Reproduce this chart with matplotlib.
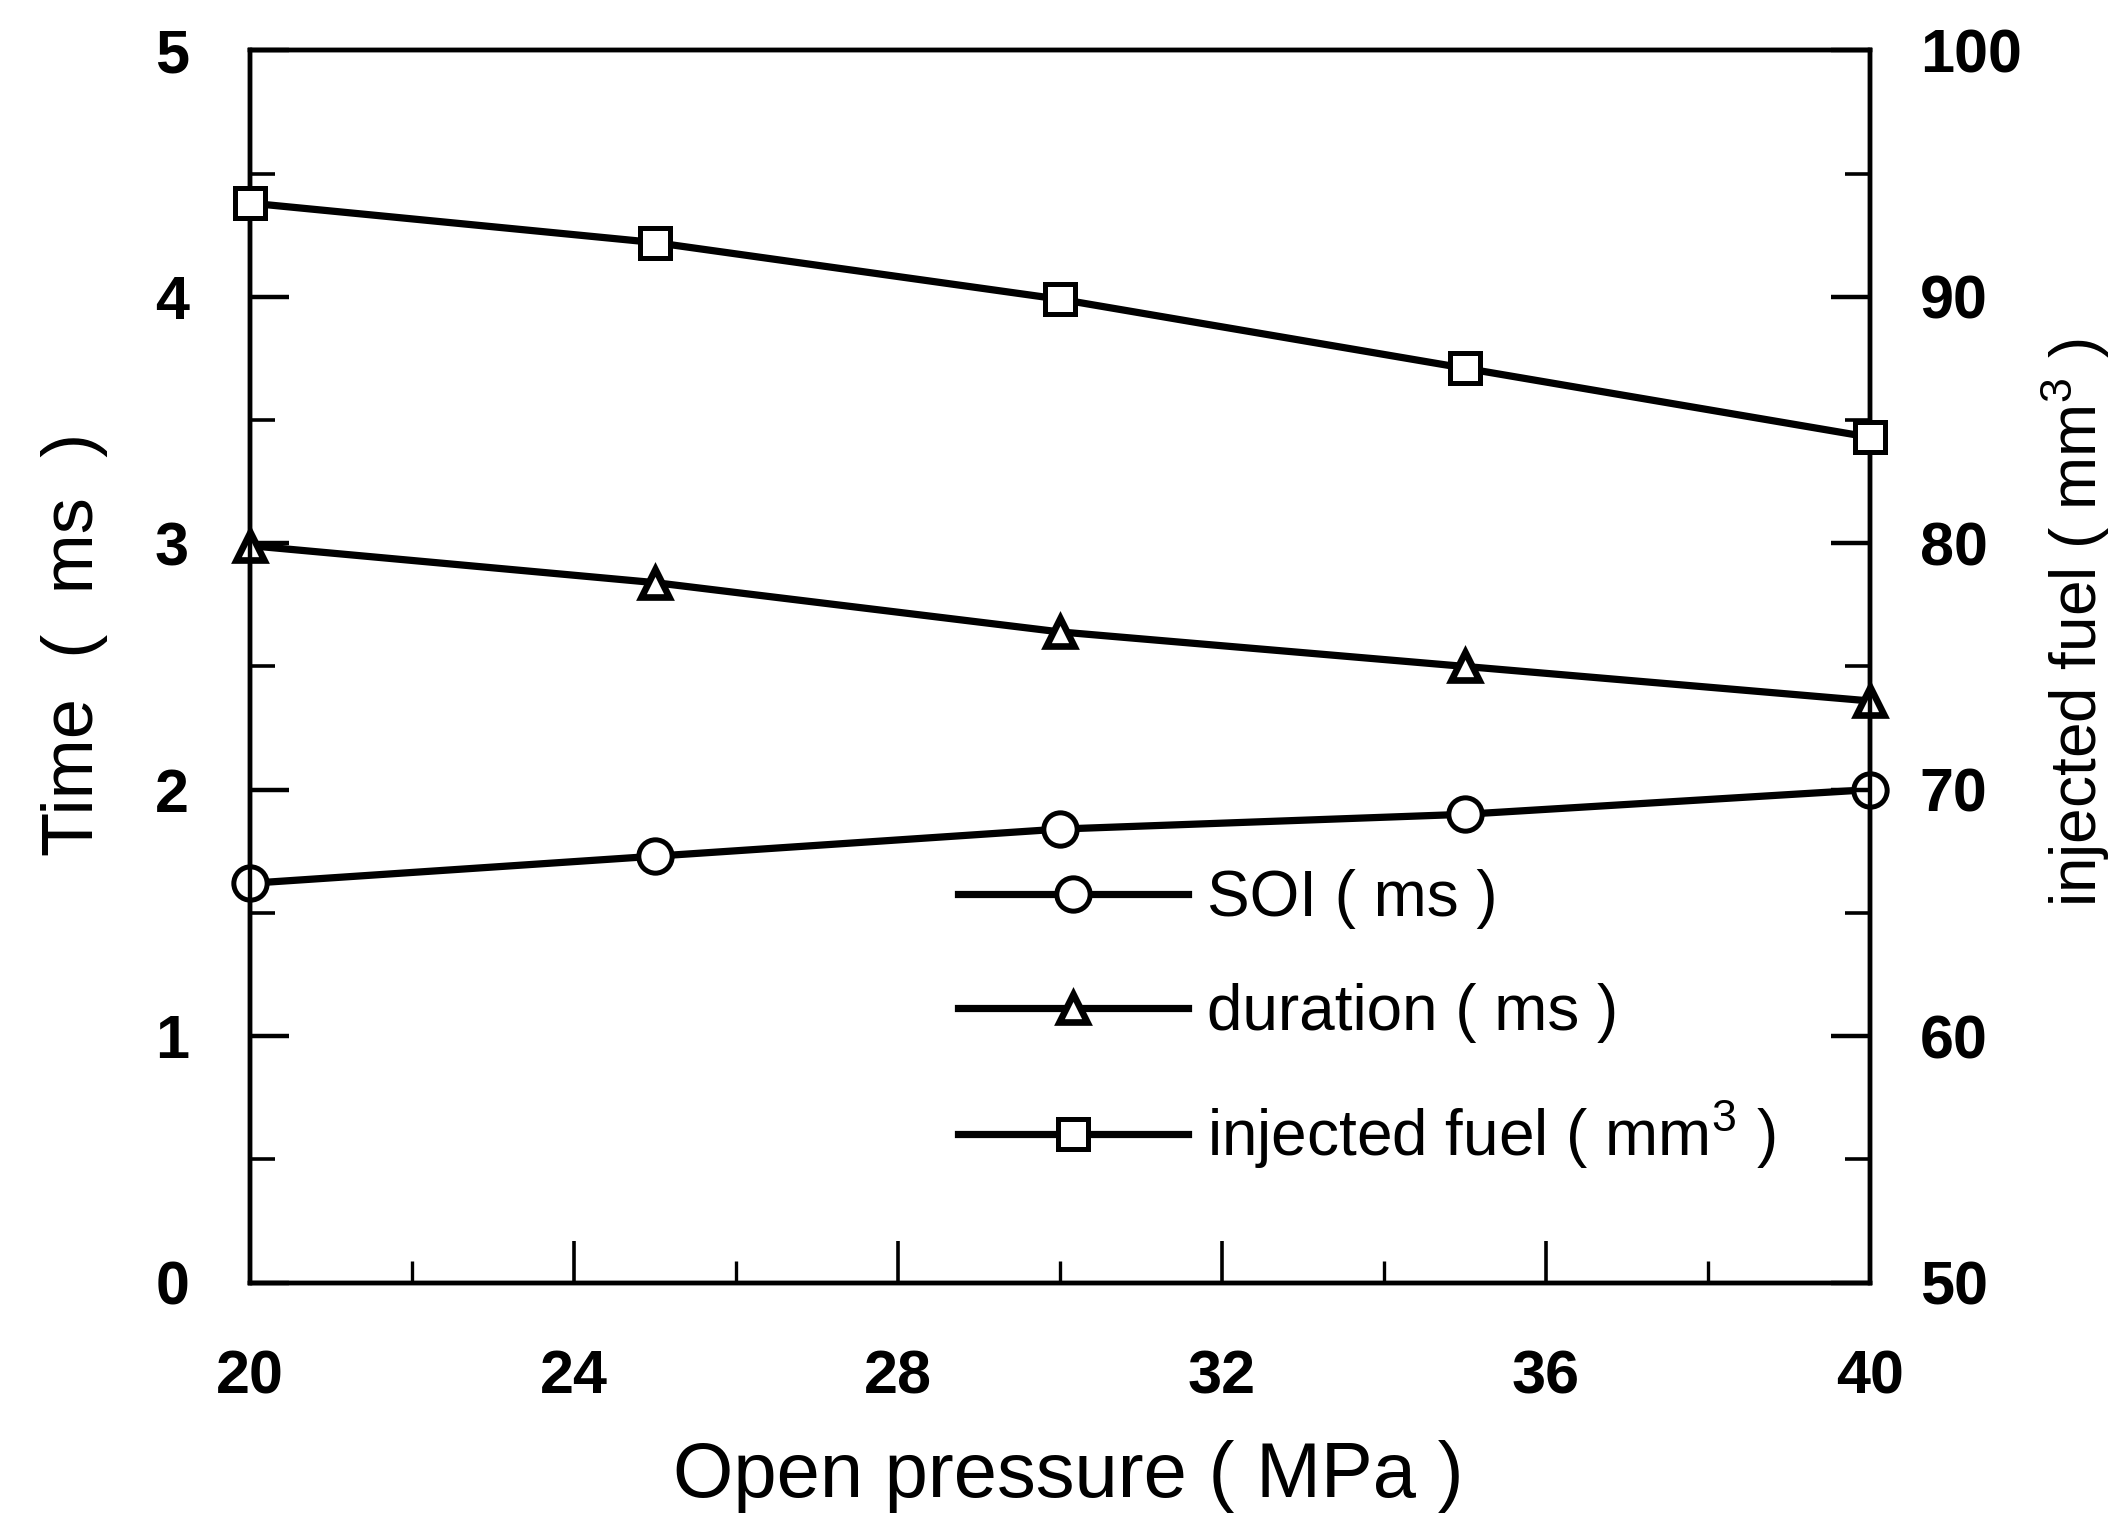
import matplotlib
matplotlib.use('Agg')
import matplotlib.pyplot as plt
from matplotlib.ticker import MultipleLocator

plt.rcParams['font.family'] = ['Liberation Sans', 'DejaVu Sans']
plt.rcParams['mathtext.fontset'] = 'custom'
plt.rcParams['mathtext.rm'] = 'Liberation Sans'

# data
pressure = [20, 25, 30, 35, 40]          # MPa
soi = [1.62, 1.73, 1.84, 1.90, 2.00]     # ms
duration = [2.99, 2.84, 2.64, 2.50, 2.36]  # ms
fuel = [93.8, 92.2, 89.9, 87.1, 84.3]    # mm3

x_ticks = [20, 24, 28, 32, 36, 40]

fig = plt.figure(figsize=(10.6, 7.625), dpi=200)
ax1 = fig.add_axes([0.118, 0.159, 0.764, 0.808])
ax2 = ax1.twinx()

lw = 2.6
ln1 = ax1.plot(pressure, soi, 'k-', lw=lw, marker='o', ms=12, mfc='white',
               mec='black', mew=1.8, label='SOI ( ms )', clip_on=False, zorder=5)
ln2 = ax1.plot(pressure, duration, 'k-', lw=lw, marker='^', ms=10, mfc='white',
               mec='black', mew=2.4, label='duration ( ms )', clip_on=False, zorder=5)
ln3 = ax2.plot(pressure, fuel, 'k-', lw=lw, marker='s', ms=11, mfc='white',
               mec='black', mew=1.8, label='injected fuel ( mm$^3$ )', clip_on=False, zorder=5)

ax1.set_xlim(20, 40)
ax1.set_ylim(0, 5)
ax2.set_ylim(50, 100)

ax1.set_xticks(x_ticks)
ax1.xaxis.set_minor_locator(MultipleLocator(2))
ax1.yaxis.set_major_locator(MultipleLocator(1))
ax1.yaxis.set_minor_locator(MultipleLocator(0.5))
ax2.yaxis.set_major_locator(MultipleLocator(10))
ax2.yaxis.set_minor_locator(MultipleLocator(5))

ax1.tick_params(axis='x', which='major', direction='in', length=15, width=1.3,
                pad=24, labelsize=22, top=False)
ax1.tick_params(axis='x', which='minor', direction='in', length=8, width=1.2, top=False)
ax1.tick_params(axis='y', which='major', direction='in', length=14, width=1.6,
                pad=22, labelsize=22, right=False)
ax1.tick_params(axis='y', which='minor', direction='in', length=9, width=1.3, right=False)
ax2.tick_params(axis='y', which='major', direction='in', length=14, width=1.6,
                pad=18, labelsize=22)
ax2.tick_params(axis='y', which='minor', direction='in', length=9, width=1.3)

for lab in ax1.get_xticklabels() + ax1.get_yticklabels() + ax2.get_yticklabels():
    lab.set_fontweight('bold')

for ax in (ax1, ax2):
    for s in ax.spines.values():
        s.set_linewidth(1.6)

ax1.set_xlabel('Open pressure ( MPa )', fontsize=28)
ax1.xaxis.set_label_coords(0.505, -0.128)
ax1.set_ylabel('Time  (  ms  )', fontsize=26)
ax1.yaxis.set_label_coords(-0.088, 0.518)
ax2.set_ylabel('injected fuel ( mm$^3$ )', fontsize=23)
ax2.yaxis.set_label_coords(1.104, 0.535)

lns = ln1 + ln2 + ln3
labs = [ln.get_label() for ln in lns]
ax1.legend(lns, labs, loc='center left', bbox_to_anchor=(0.437, 0.213),
           frameon=False, fontsize=23, handlelength=3.6, handletextpad=0.3,
           labelspacing=0.85, borderpad=0, borderaxespad=0)

plt.savefig('out.png', dpi=200)
